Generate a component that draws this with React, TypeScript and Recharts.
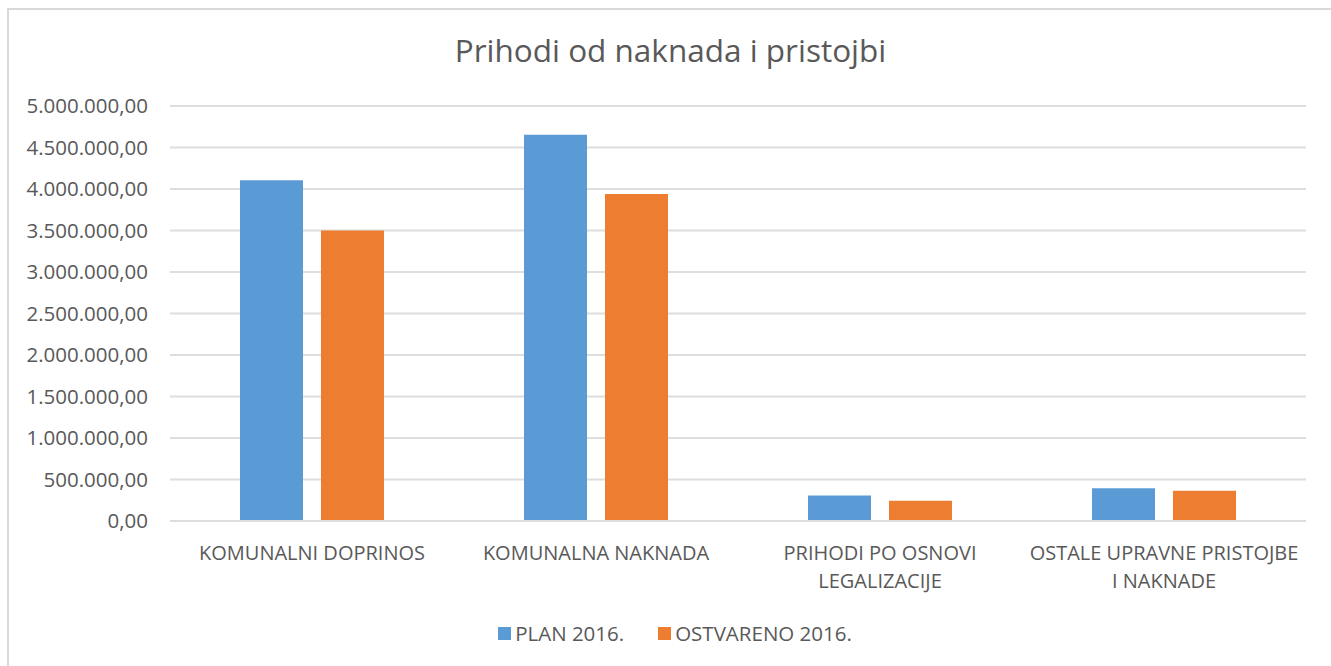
import React from "react";
import { BarChart, Bar, XAxis, YAxis, CartesianGrid, Legend } from "recharts";

const categories = [
  "KOMUNALNI DOPRINOS",
  "KOMUNALNA NAKNADA",
  "PRIHODI PO OSNOVI\nLEGALIZACIJE",
  "OSTALE UPRAVNE PRISTOJBE\nI NAKNADE",
];
const seriesNames = ["PLAN 2016.", "OSTVARENO 2016."];
const plan2016 = [4105000, 4655000, 306000, 394000];
const ostvareno2016 = [3500000, 3940000, 243000, 363000];
const yTicks = [0, 500000, 1000000, 1500000, 2000000, 2500000, 3000000, 3500000, 4000000, 4500000, 5000000];

const FONT = "'Open Sans', 'Noto Sans', sans-serif";
const TEXT = "#595959";
const BLUE = "#5B9BD5";
const ORANGE = "#ED7D31";

const data = categories.map((name, i) => ({
  name,
  plan: plan2016[i],
  ostvareno: ostvareno2016[i],
}));

// 5000000 -> "5.000.000,00"
const formatHr = (v: number) => {
  const [int, dec] = v.toFixed(2).split(".");
  return int.replace(/\B(?=(\d{3})+(?!\d))/g, ".") + "," + dec;
};

const CategoryTick = (props: any) => {
  const { x, y, payload } = props;
  const lines = String(payload.value).split("\n");
  return (
    <text x={x} y={y} textAnchor="middle" fill={TEXT} fontSize={20} fontFamily={FONT}>
      {lines.map((line, i) => (
        <tspan key={i} x={x} dy={i === 0 ? 37 : 28}>
          {line}
        </tspan>
      ))}
    </text>
  );
};

const LegendContent = (props: any) => {
  // keep series order, not alphabetical
  const items = [...(props.payload || [])].sort(
    (a: any, b: any) => seriesNames.indexOf(a.value) - seriesNames.indexOf(b.value)
  );
  return (
    <div
      style={{
        height: 30,
        display: "flex",
        justifyContent: "center",
        alignItems: "center",
        gap: 34,
        paddingLeft: 44,
        fontFamily: FONT,
        fontSize: 20.5,
        color: TEXT,
      }}
    >
      {items.map((entry: any) => (
        <div key={entry.value} style={{ display: "flex", alignItems: "center" }}>
          <span style={{ width: 13, height: 13, background: entry.color, marginRight: 4 }} />
          <span>{entry.value}</span>
        </div>
      ))}
    </div>
  );
};

const App = () => {
  return (
    <div style={{ position: "absolute", left: 0, top: 0, width: 1331, height: 666, background: "#fff", overflow: "hidden" }}>
      <div
        style={{
          position: "absolute",
          left: 7,
          top: 8,
          width: 1400,
          height: 700,
          borderLeft: "2px solid #d9d9d9",
          borderTop: "2px solid #d9d9d9",
        }}
      />
      <div
        style={{
          position: "absolute",
          left: 0,
          top: 34,
          width: 1341,
          textAlign: "center",
          fontFamily: FONT,
          fontSize: 31.5,
          lineHeight: 1,
          color: TEXT,
        }}
      >
        Prihodi od naknada i pristojbi
      </div>
      <div style={{ position: "absolute", left: 0, top: 0 }}>
        <BarChart
          width={1331}
          height={666}
          data={data}
          margin={{ top: 106, right: 25, left: 0, bottom: 18 }}
          barSize={63}
          barGap={18}
        >
          <CartesianGrid vertical={false} stroke="#dedede" strokeWidth={2} />
          <XAxis
            dataKey="name"
            height={97}
            interval={0}
            axisLine={{ stroke: "#dedede", strokeWidth: 2 }}
            tickLine={false}
            tickSize={0}
            tick={<CategoryTick />}
          />
          <YAxis
            width={170}
            domain={[0, 5000000]}
            ticks={yTicks}
            interval={0}
            axisLine={false}
            tickLine={false}
            tickSize={0}
            tickMargin={22}
            tickFormatter={formatHr}
            tick={{ fill: TEXT, fontSize: 20.5, fontFamily: FONT }}
          />
          <Legend verticalAlign="bottom" content={<LegendContent />} />
          <Bar dataKey="plan" name={seriesNames[0]} fill={BLUE} isAnimationActive={false} />
          <Bar dataKey="ostvareno" name={seriesNames[1]} fill={ORANGE} isAnimationActive={false} />
        </BarChart>
      </div>
    </div>
  );
};

export default App;
